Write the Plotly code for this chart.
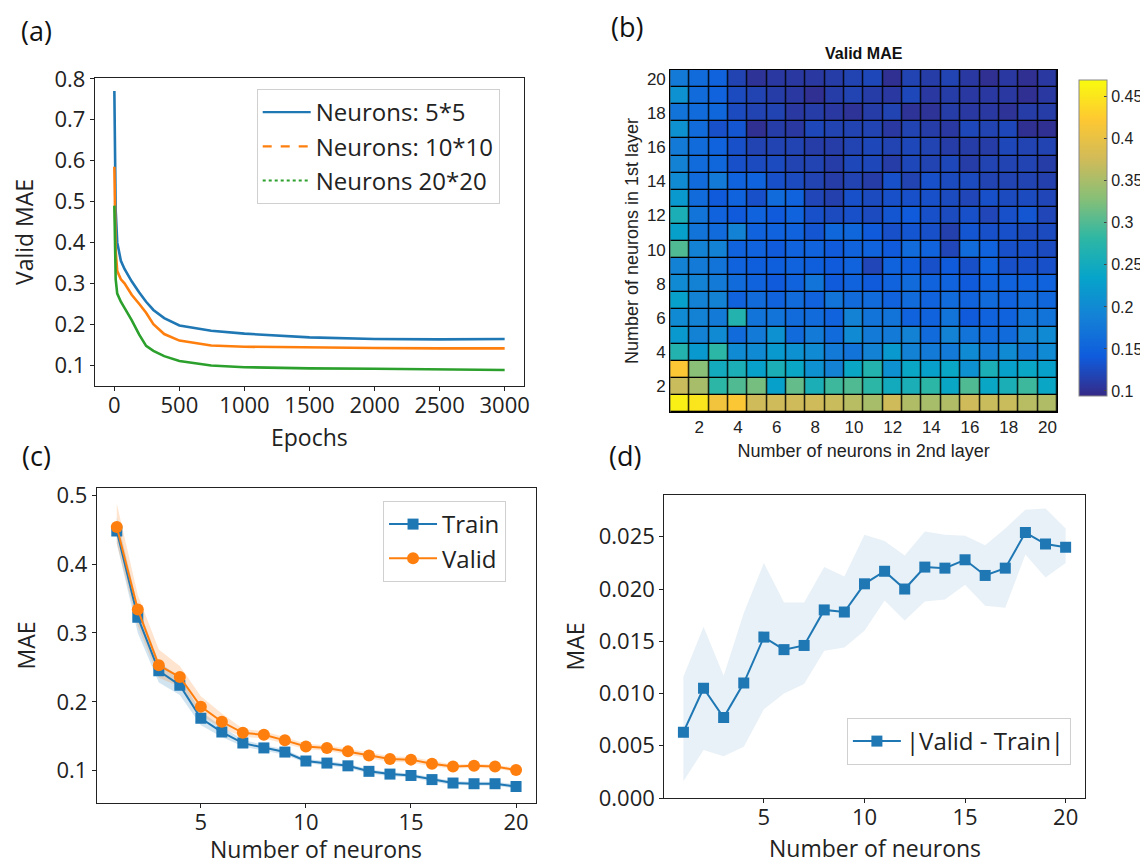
import plotly.graph_objects as go

W, H = 1148, 864

# ---------------- Panel (a): validation MAE vs epochs ----------------
epochs = [0, 5, 10, 22, 50, 78, 133, 190, 244, 300, 383, 500, 744, 1000, 1500, 2000, 2500, 3000]
mae_5x5 = [0.77, 0.60, 0.48, 0.40, 0.355, 0.335, 0.305, 0.278, 0.255, 0.235, 0.215, 0.197, 0.184, 0.177, 0.168, 0.164, 0.163, 0.164]
mae_10x10 = [0.585, 0.45, 0.38, 0.33, 0.31, 0.30, 0.272, 0.25, 0.228, 0.20, 0.176, 0.16, 0.148, 0.145, 0.143, 0.142, 0.141, 0.141]
mae_20x20 = [0.49, 0.37, 0.31, 0.275, 0.255, 0.24, 0.21, 0.175, 0.147, 0.135, 0.122, 0.11, 0.099, 0.095, 0.092, 0.091, 0.089, 0.088]
series_a_names = ["Neurons: 5*5", "Neurons: 10*10", "Neurons 20*20"]

# ---------------- Panel (b): Valid MAE heatmap ----------------
layer2_neurons = list(range(1, 21))   # x (columns)
layer1_neurons = list(range(1, 21))   # y (rows, bottom = 1)
valid_mae_grid = [
    [0.46, 0.45, 0.41, 0.42, 0.375, 0.375, 0.375, 0.375, 0.37, 0.36, 0.35, 0.375, 0.355, 0.35, 0.355, 0.375, 0.37, 0.37, 0.36, 0.355],
    [0.37, 0.35, 0.28, 0.30, 0.32, 0.23, 0.31, 0.26, 0.29, 0.30, 0.28, 0.25, 0.26, 0.28, 0.24, 0.30, 0.24, 0.26, 0.29, 0.24],
    [0.42, 0.33, 0.25, 0.26, 0.23, 0.26, 0.24, 0.21, 0.19, 0.24, 0.27, 0.21, 0.24, 0.23, 0.24, 0.21, 0.26, 0.23, 0.24, 0.23],
    [0.27, 0.22, 0.28, 0.20, 0.20, 0.22, 0.21, 0.20, 0.18, 0.17, 0.19, 0.22, 0.19, 0.18, 0.18, 0.20, 0.18, 0.20, 0.18, 0.20],
    [0.22, 0.19, 0.20, 0.16, 0.18, 0.21, 0.16, 0.18, 0.16, 0.20, 0.18, 0.18, 0.19, 0.16, 0.19, 0.17, 0.16, 0.16, 0.19, 0.20],
    [0.20, 0.19, 0.18, 0.27, 0.17, 0.17, 0.16, 0.16, 0.15, 0.19, 0.17, 0.17, 0.15, 0.15, 0.17, 0.14, 0.15, 0.15, 0.17, 0.17],
    [0.23, 0.19, 0.19, 0.15, 0.16, 0.15, 0.16, 0.15, 0.17, 0.16, 0.16, 0.15, 0.16, 0.15, 0.16, 0.15, 0.16, 0.15, 0.16, 0.155],
    [0.20, 0.19, 0.18, 0.16, 0.15, 0.14, 0.15, 0.17, 0.14, 0.15, 0.14, 0.15, 0.16, 0.15, 0.15, 0.14, 0.15, 0.15, 0.15, 0.15],
    [0.19, 0.18, 0.17, 0.15, 0.145, 0.145, 0.15, 0.145, 0.14, 0.15, 0.12, 0.15, 0.145, 0.13, 0.14, 0.13, 0.15, 0.13, 0.13, 0.13],
    [0.30, 0.19, 0.19, 0.15, 0.15, 0.14, 0.15, 0.15, 0.14, 0.15, 0.15, 0.14, 0.16, 0.15, 0.12, 0.16, 0.15, 0.13, 0.13, 0.125],
    [0.23, 0.17, 0.16, 0.19, 0.15, 0.15, 0.15, 0.135, 0.155, 0.155, 0.14, 0.13, 0.135, 0.13, 0.115, 0.135, 0.13, 0.13, 0.125, 0.125],
    [0.26, 0.17, 0.15, 0.14, 0.15, 0.14, 0.15, 0.13, 0.125, 0.13, 0.125, 0.135, 0.14, 0.13, 0.125, 0.13, 0.12, 0.13, 0.135, 0.12],
    [0.22, 0.16, 0.14, 0.15, 0.13, 0.16, 0.15, 0.12, 0.115, 0.13, 0.125, 0.13, 0.13, 0.13, 0.125, 0.12, 0.13, 0.125, 0.125, 0.12],
    [0.20, 0.16, 0.18, 0.15, 0.15, 0.13, 0.125, 0.118, 0.112, 0.118, 0.112, 0.13, 0.118, 0.13, 0.125, 0.125, 0.118, 0.118, 0.118, 0.115],
    [0.19, 0.16, 0.155, 0.13, 0.125, 0.125, 0.118, 0.118, 0.112, 0.122, 0.122, 0.112, 0.122, 0.118, 0.122, 0.112, 0.118, 0.118, 0.118, 0.112],
    [0.18, 0.16, 0.15, 0.13, 0.118, 0.118, 0.118, 0.112, 0.112, 0.118, 0.122, 0.118, 0.122, 0.118, 0.112, 0.112, 0.112, 0.122, 0.118, 0.118],
    [0.21, 0.16, 0.13, 0.135, 0.10, 0.112, 0.108, 0.122, 0.118, 0.118, 0.118, 0.108, 0.118, 0.112, 0.108, 0.122, 0.118, 0.122, 0.10, 0.10],
    [0.17, 0.16, 0.155, 0.125, 0.118, 0.118, 0.108, 0.112, 0.108, 0.103, 0.112, 0.118, 0.103, 0.103, 0.112, 0.108, 0.108, 0.103, 0.112, 0.112],
    [0.21, 0.16, 0.15, 0.125, 0.118, 0.112, 0.108, 0.10, 0.112, 0.118, 0.112, 0.108, 0.122, 0.108, 0.112, 0.108, 0.108, 0.108, 0.10, 0.108],
    [0.18, 0.16, 0.15, 0.118, 0.103, 0.108, 0.108, 0.108, 0.112, 0.118, 0.122, 0.10, 0.118, 0.112, 0.118, 0.108, 0.10, 0.108, 0.10, 0.108],
]
heat_ticks = [2, 4, 6, 8, 10, 12, 14, 16, 18, 20]
cbar_ticks = [0.1, 0.15, 0.2, 0.25, 0.3, 0.35, 0.4, 0.45]
cbar_labels = ["0.1", "0.15", "0.2", "0.25", "0.3", "0.35", "0.4", "0.45"]

# ---------------- Panel (c): Train / Valid MAE vs neurons ----------------
neurons = list(range(1, 21))
train_mae = [0.448, 0.323, 0.245, 0.224, 0.176, 0.156, 0.140, 0.133, 0.127, 0.114, 0.111, 0.107, 0.099, 0.095, 0.093, 0.087, 0.082, 0.081, 0.081, 0.077]
train_lo = [0.430, 0.300, 0.228, 0.210, 0.166, 0.149, 0.135, 0.129, 0.123, 0.111, 0.108, 0.104, 0.096, 0.092, 0.090, 0.084, 0.079, 0.078, 0.078, 0.074]
train_hi = [0.468, 0.340, 0.258, 0.236, 0.186, 0.164, 0.145, 0.137, 0.131, 0.117, 0.114, 0.110, 0.102, 0.098, 0.096, 0.090, 0.085, 0.084, 0.084, 0.080]
valid_mae = [0.454, 0.334, 0.253, 0.236, 0.193, 0.171, 0.155, 0.152, 0.144, 0.135, 0.133, 0.128, 0.122, 0.117, 0.116, 0.110, 0.106, 0.107, 0.106, 0.101]
valid_lo = [0.430, 0.310, 0.235, 0.222, 0.180, 0.162, 0.149, 0.147, 0.139, 0.131, 0.129, 0.124, 0.118, 0.113, 0.112, 0.106, 0.103, 0.104, 0.103, 0.098]
valid_hi = [0.488, 0.355, 0.276, 0.252, 0.208, 0.183, 0.161, 0.157, 0.149, 0.139, 0.137, 0.132, 0.126, 0.121, 0.120, 0.114, 0.109, 0.110, 0.109, 0.104]

# ---------------- Panel (d): |Valid - Train| ----------------
gap_mae = [0.0063, 0.0105, 0.0077, 0.0110, 0.0154, 0.0142, 0.0146, 0.0180, 0.0178, 0.0205, 0.0217, 0.0200, 0.0221, 0.0220, 0.0228, 0.0213, 0.0220, 0.0254, 0.0243, 0.0240]
gap_lo = [0.0016, 0.0046, 0.0040, 0.0049, 0.0085, 0.0100, 0.0109, 0.0141, 0.0144, 0.0160, 0.0189, 0.0170, 0.0188, 0.0190, 0.0204, 0.0184, 0.0182, 0.0233, 0.0211, 0.0225]
gap_hi = [0.0116, 0.0164, 0.0117, 0.0177, 0.0225, 0.0187, 0.0187, 0.0221, 0.0212, 0.0252, 0.0246, 0.0232, 0.0255, 0.0252, 0.0251, 0.0242, 0.0258, 0.0276, 0.0277, 0.0258]

BLUE, ORANGE, GREEN = "#1f77b4", "#ff7f0e", "#2ca02c"
FONT = "Open Sans"
HFONT = "Liberation Sans"
parula = [
    [0.0, "#352A87"], [0.125, "#0F5CDD"], [0.25, "#1481D6"], [0.375, "#06A4CA"],
    [0.5, "#2EB7A4"], [0.625, "#87BF77"], [0.75, "#D1BB59"], [0.875, "#FEC832"], [1.0, "#F9FB0E"],
]


def fx(v):
    return v / W


def fy(v):
    return 1 - v / H


def px_x(a, b):
    return [fx(a), fx(b)]


def px_y(top, bottom):
    return [fy(bottom), fy(top)]


fig = go.Figure()

# (a) curves drawn solid (dense noisy data reads as solid), legend samples carry the styles
for ys, col, nm, dash in zip([mae_5x5, mae_10x10, mae_20x20], [BLUE, ORANGE, GREEN], series_a_names,
                             ["solid", "dash", "dot"]):
    fig.add_trace(go.Scatter(x=epochs, y=ys, mode="lines", line=dict(color=col, width=2.6),
                             showlegend=False, xaxis="x", yaxis="y"))
    fig.add_trace(go.Scatter(x=[None], y=[None], mode="lines", name=nm,
                             line=dict(color=col, width=2.2, dash=dash), xaxis="x", yaxis="y", legend="legend"))

# (b) heatmap
fig.add_trace(go.Heatmap(
    x=layer2_neurons, y=layer1_neurons, z=valid_mae_grid, colorscale=parula,
    zmin=0.094, zmax=0.47, xgap=1.3, ygap=1.3, xaxis="x2", yaxis="y2",
    colorbar=dict(
        x=fx(1075), xanchor="left", y=fy(62), yanchor="top",
        thickness=28, thicknessmode="pixels", len=336, lenmode="pixels",
        tickvals=cbar_ticks, ticktext=cbar_labels, ticks="inside", ticklen=3,
        tickfont=dict(family=HFONT, size=16, color="#222"),
        outlinewidth=1, outlinecolor="#888",
    ),
))

# (c) bands and lines
fig.add_trace(go.Scatter(x=neurons + neurons[::-1], y=train_hi + train_lo[::-1], fill="toself",
                         fillcolor="rgba(31,119,180,0.2)", line=dict(width=0), mode="lines",
                         showlegend=False, hoverinfo="skip", xaxis="x3", yaxis="y3"))
fig.add_trace(go.Scatter(x=neurons + neurons[::-1], y=valid_hi + valid_lo[::-1], fill="toself",
                         fillcolor="rgba(255,127,14,0.2)", line=dict(width=0), mode="lines",
                         showlegend=False, hoverinfo="skip", xaxis="x3", yaxis="y3"))
fig.add_trace(go.Scatter(x=neurons, y=train_mae, mode="lines+markers", name="Train",
                         line=dict(color=BLUE, width=2), marker=dict(symbol="square", size=11, color=BLUE),
                         xaxis="x3", yaxis="y3", legend="legend2"))
fig.add_trace(go.Scatter(x=neurons, y=valid_mae, mode="lines+markers", name="Valid",
                         line=dict(color=ORANGE, width=2), marker=dict(symbol="circle", size=12, color=ORANGE),
                         xaxis="x3", yaxis="y3", legend="legend2"))

# (d)
fig.add_trace(go.Scatter(x=neurons + neurons[::-1], y=gap_hi + gap_lo[::-1], fill="toself",
                         fillcolor="rgba(31,119,180,0.1)", line=dict(width=0), mode="lines",
                         showlegend=False, hoverinfo="skip", xaxis="x4", yaxis="y4"))
fig.add_trace(go.Scatter(x=neurons, y=gap_mae, mode="lines+markers", name="|Valid - Train|",
                         line=dict(color=BLUE, width=2), marker=dict(symbol="square", size=11, color=BLUE),
                         xaxis="x4", yaxis="y4", legend="legend3"))

tickfont = dict(family=FONT, size=22, color="#222")
titlefont = dict(family=FONT, size=23, color="#222")
mpl_axis = dict(showline=True, linecolor="#222", linewidth=1.2, mirror=True, ticks="outside",
                ticklen=4, tickcolor="#222", showgrid=False, zeroline=False, tickfont=tickfont,
                automargin=False)

legend_style = dict(bgcolor="rgba(255,255,255,0.85)", bordercolor="#d0d0d0", borderwidth=1,
                    font=dict(family=FONT, size=24, color="#222"), xanchor="left", yanchor="top",
                    itemwidth=48)

hfont_ticks = dict(family=HFONT, size=17, color="#222")
hfont_title = dict(family=HFONT, size=18, color="#222")


def label(text, x, y, font, angle=0):
    return dict(text=text, x=fx(x), y=fy(y), xref="paper", yref="paper", showarrow=False,
                xanchor="center", yanchor="middle", font=font, textangle=angle)


fig.update_layout(
    width=W, height=H, margin=dict(l=0, r=0, t=0, b=0),
    paper_bgcolor="white", plot_bgcolor="white",
    xaxis=dict(mpl_axis, domain=px_x(88, 523), range=[-150, 3150], tickvals=[0, 500, 1000, 1500, 2000, 2500, 3000],
               anchor="y"),
    yaxis=dict(mpl_axis, domain=px_y(70, 378), range=[0.049, 0.802], tickvals=[0.1, 0.2, 0.3, 0.4, 0.5, 0.6, 0.7, 0.8],
               title=dict(text="Valid MAE", font=titlefont, standoff=16), anchor="x"),
    xaxis2=dict(domain=px_x(671, 1063), range=[0.5, 20.5], tickvals=heat_ticks, showline=True, linecolor="black",
                linewidth=1, mirror=True, ticks="", showgrid=False, zeroline=False,
                tickfont=hfont_ticks, automargin=False, anchor="y2",
                title=dict(text="Number of neurons in 2nd layer", font=hfont_title, standoff=7)),
    yaxis2=dict(domain=px_y(62, 404), range=[0.5, 20.5], tickvals=heat_ticks, showline=True, linecolor="black",
                linewidth=1, mirror=True, ticks="", showgrid=False, zeroline=False,
                tickfont=hfont_ticks, automargin=False, anchor="x2",
                title=dict(text="Number of neurons in 1st layer", font=hfont_title, standoff=3)),
    xaxis3=dict(mpl_axis, domain=px_x(90, 535), range=[0.05, 20.95], tickvals=[5, 10, 15, 20], anchor="y3"),
    yaxis3=dict(mpl_axis, domain=px_y(480, 795), range=[0.053, 0.5106], tickvals=[0.1, 0.2, 0.3, 0.4, 0.5],
                title=dict(text="MAE", font=titlefont, standoff=14), anchor="x3"),
    xaxis4=dict(mpl_axis, domain=px_x(665, 1091), range=[0.05, 20.95], tickvals=[5, 10, 15, 20], anchor="y4"),
    yaxis4=dict(mpl_axis, domain=px_y(487, 790), range=[0.0, 0.029],
                tickvals=[0.0, 0.005, 0.01, 0.015, 0.02, 0.025], tickformat=".3f",
                title=dict(text="MAE", font=titlefont, standoff=7), anchor="x4"),
    legend=dict(legend_style, x=fx(252), y=fy(81)),
    legend2=dict(legend_style, x=fx(380), y=fy(493)),
    legend3=dict(legend_style, x=fx(850), y=fy(710)),
    shapes=[dict(type="rect", xref="x2 domain", yref="y2 domain", x0=0, x1=1, y0=0, y1=1,
                 fillcolor="black", line=dict(width=0), layer="below")],
    annotations=[
        label("<b>Valid MAE</b>", (671 + 1063) / 2, 46, dict(family=HFONT, size=16, color="#111")),
        label("Epochs", (88 + 523) / 2, 429, titlefont),
        label("Number of neurons", (90 + 535) / 2, 841, titlefont),
        label("Number of neurons", (665 + 1091) / 2, 840, titlefont),
        label("(a)", 29, 23, dict(family=FONT, size=27, color="#111")),
        label("(b)", 627, 19, dict(family=FONT, size=27, color="#111")),
        label("(c)", 29, 447, dict(family=FONT, size=27, color="#111")),
        label("(d)", 625, 447, dict(family=FONT, size=27, color="#111")),
    ],
)

# pull the matplotlib-style x tick labels a little closer to the axis (as in the reference)
for ax_name in ("xaxis", "xaxis3", "xaxis4"):
    try:
        fig.layout[ax_name].ticklabelstandoff = -5
    except (ValueError, AttributeError):
        pass

fig.write_html("out.html")
